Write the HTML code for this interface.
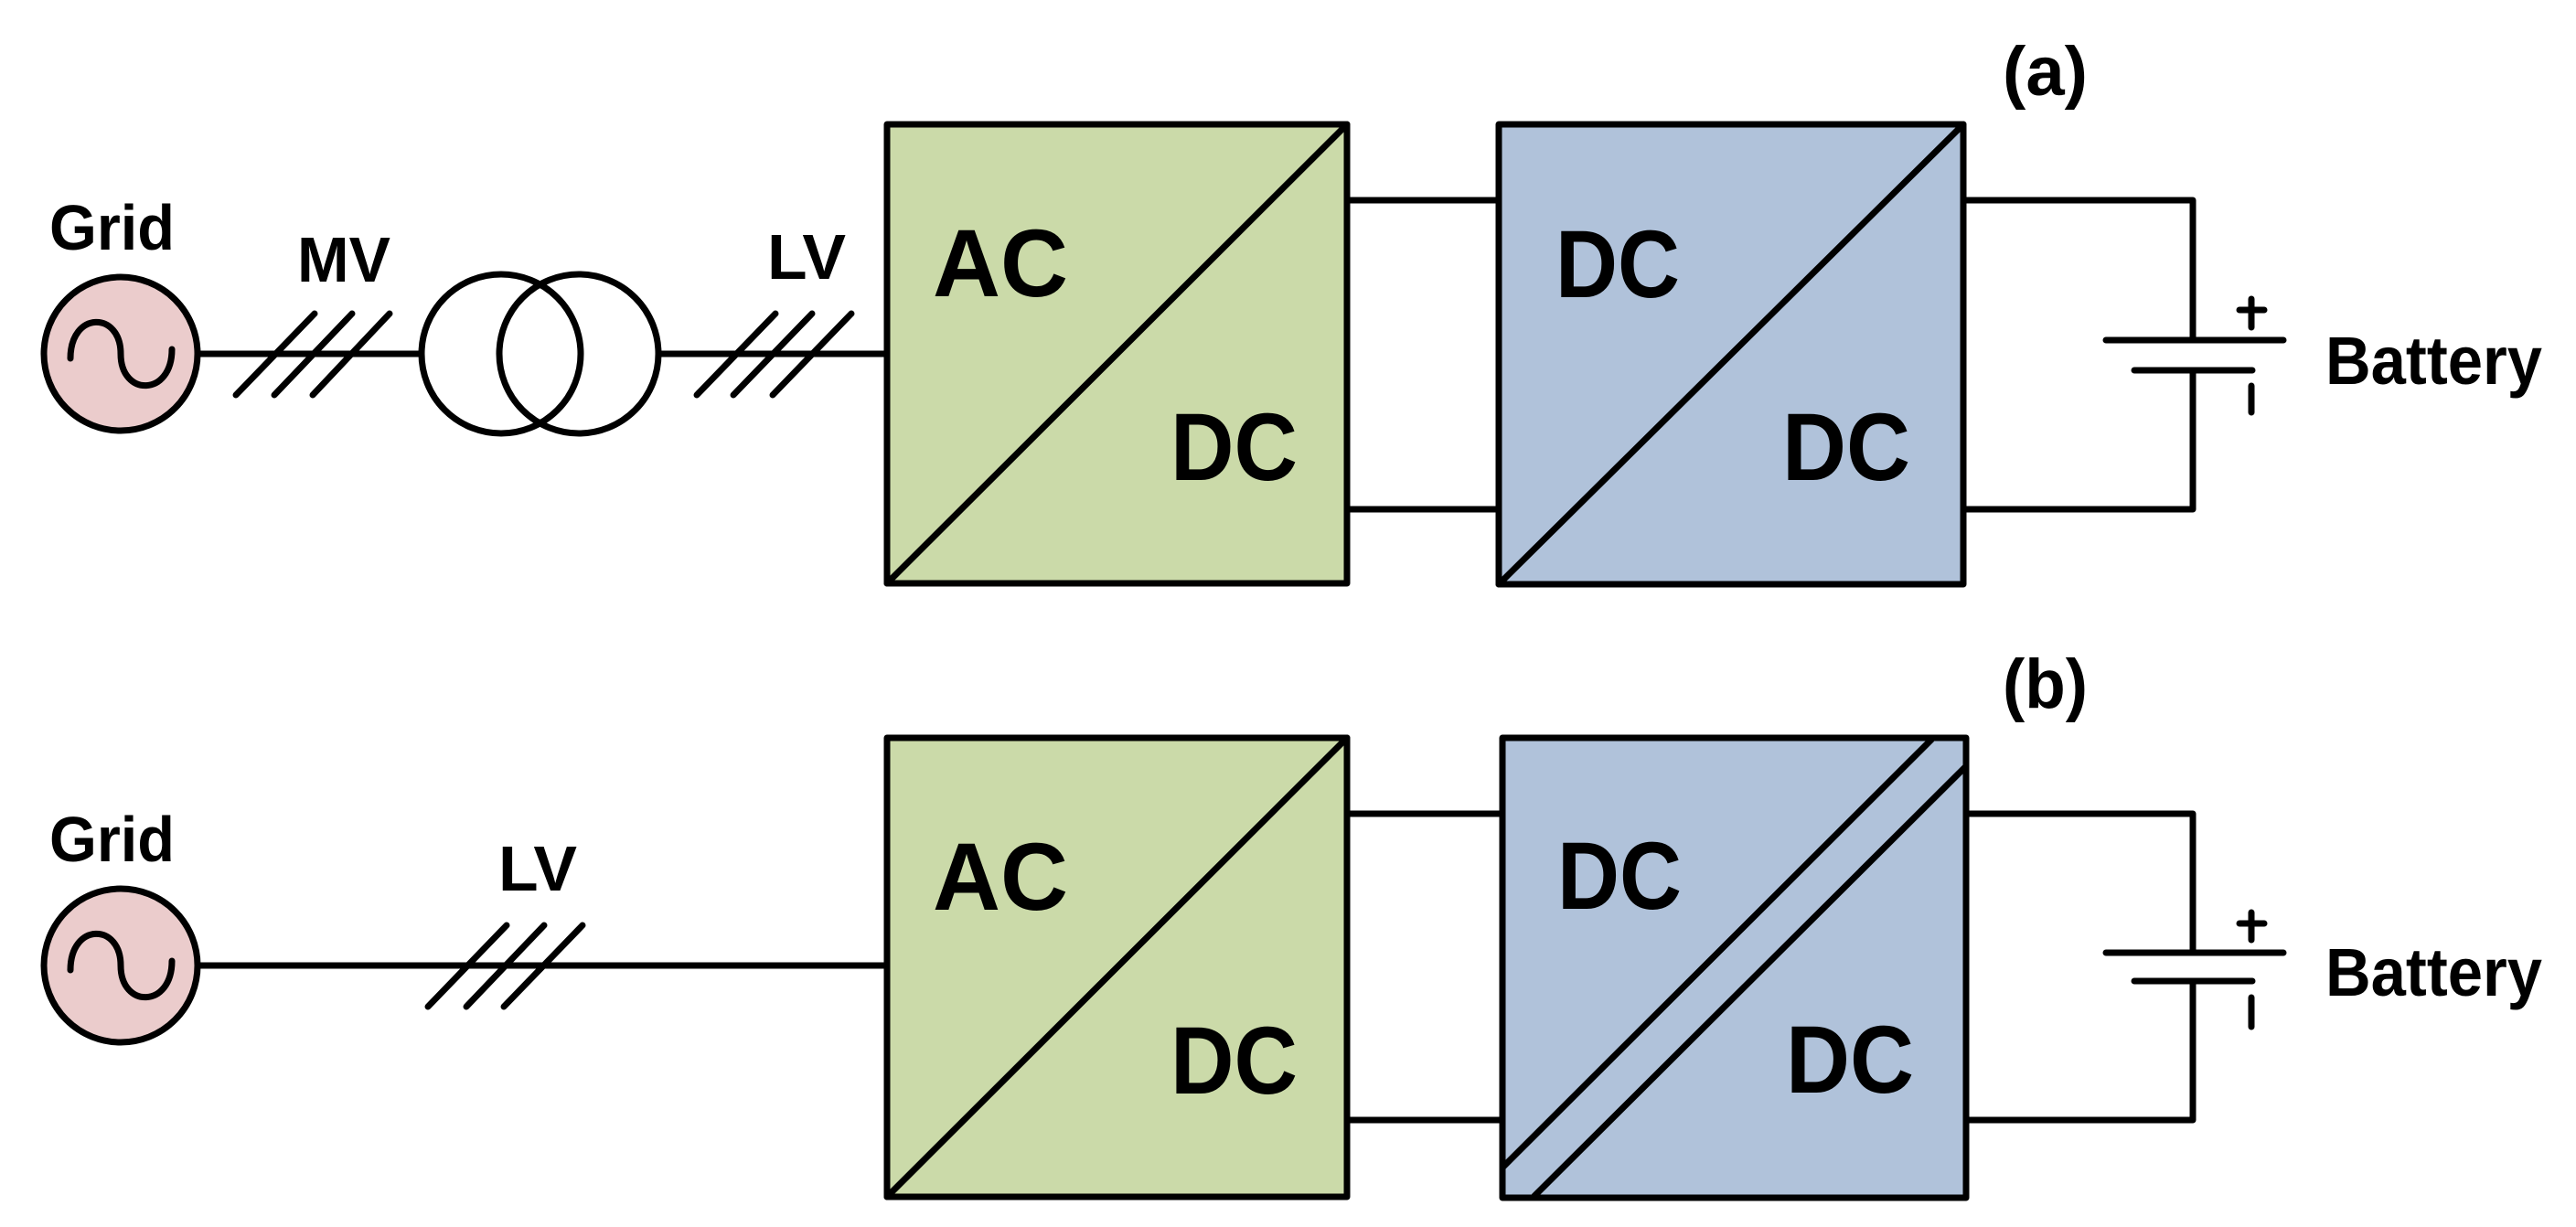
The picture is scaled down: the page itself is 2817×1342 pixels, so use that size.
<!DOCTYPE html>
<html><head><meta charset="utf-8"><style>html,body{margin:0;padding:0;background:#fff}svg{display:block}</style></head>
<body>
<svg width="2817" height="1342" viewBox="0 0 2817 1342" xmlns="http://www.w3.org/2000/svg" font-family="'Liberation Sans', Arial, sans-serif" font-weight="bold">
<g stroke="#000" stroke-width="7" fill="none" stroke-linecap="round" stroke-linejoin="round">
<!-- (a) -->
<line x1="217" y1="387" x2="459" y2="387"/>
<line x1="721" y1="387" x2="970" y2="387"/>
<line x1="258" y1="432" x2="344" y2="343"/>
<line x1="300" y1="432" x2="385" y2="343"/>
<line x1="342" y1="432" x2="426" y2="343"/>
<line x1="762" y1="432" x2="848" y2="343"/>
<line x1="802" y1="432" x2="888" y2="343"/>
<line x1="845" y1="432" x2="931" y2="343"/>
<circle cx="548" cy="387" r="87"/>
<circle cx="633" cy="387" r="87"/>
<circle cx="132" cy="387" r="84" fill="#ebcccc"/>
<path d="M77,392 C77,340 132,340 132,387 C132,434 188,434 188,382"/>
<rect x="970" y="136" width="503" height="502" fill="#cbdaa9"/>
<line x1="970" y1="638" x2="1473" y2="136"/>
<line x1="1473" y1="219" x2="1639" y2="219"/>
<line x1="1473" y1="557" x2="1639" y2="557"/>
<rect x="1639" y="136" width="508" height="503" fill="#b0c2da"/>
<line x1="1639" y1="639" x2="2147" y2="136"/>
<polyline points="2147,219 2398,219 2398,372"/>
<polyline points="2147,557 2398,557 2398,405"/>
<line x1="2303" y1="372" x2="2497" y2="372"/>
<line x1="2334" y1="405" x2="2463" y2="405"/>
<line x1="2462" y1="327" x2="2462" y2="358"/>
<line x1="2449" y1="339" x2="2476" y2="339"/>
<line x1="2462" y1="422" x2="2462" y2="451"/>
<!-- (b) -->
<line x1="217" y1="1056" x2="970" y2="1056"/>
<line x1="468" y1="1101" x2="554" y2="1012"/>
<line x1="510" y1="1101" x2="595" y2="1012"/>
<line x1="551" y1="1101" x2="637" y2="1012"/>
<circle cx="132" cy="1056" r="84" fill="#ebcccc"/>
<path d="M77,1061 C77,1009 132,1009 132,1056 C132,1103 188,1103 188,1051"/>
<rect x="970" y="807" width="503" height="502" fill="#cbdaa9"/>
<line x1="970" y1="1309" x2="1473" y2="807"/>
<line x1="1473" y1="890" x2="1643" y2="890"/>
<line x1="1473" y1="1225" x2="1643" y2="1225"/>
<rect x="1643" y="807" width="507" height="503" fill="#b0c2da"/>
<line x1="1643" y1="1277" x2="2112" y2="809"/>
<line x1="1678" y1="1308" x2="2150" y2="838"/>
<polyline points="2150,890 2398,890 2398,1042"/>
<polyline points="2150,1225 2398,1225 2398,1073"/>
<line x1="2303" y1="1042" x2="2497" y2="1042"/>
<line x1="2334" y1="1073" x2="2463" y2="1073"/>
<line x1="2462" y1="998" x2="2462" y2="1028"/>
<line x1="2449" y1="1010" x2="2476" y2="1010"/>
<line x1="2462" y1="1091" x2="2462" y2="1123"/>
</g>
<g fill="#000">
<text x="54" y="273" font-size="70" textLength="137" lengthAdjust="spacingAndGlyphs">Grid</text>
<text x="325" y="308" font-size="70" textLength="102" lengthAdjust="spacingAndGlyphs">MV</text>
<text x="839" y="305" font-size="70" textLength="86" lengthAdjust="spacingAndGlyphs">LV</text>
<text x="1020" y="324" font-size="105" textLength="148" lengthAdjust="spacingAndGlyphs">AC</text>
<text x="1280" y="525" font-size="105" textLength="139" lengthAdjust="spacingAndGlyphs">DC</text>
<text x="1701" y="325" font-size="105" textLength="136" lengthAdjust="spacingAndGlyphs">DC</text>
<text x="1949" y="525" font-size="105" textLength="140" lengthAdjust="spacingAndGlyphs">DC</text>
<text x="2543" y="420" font-size="74" textLength="237" lengthAdjust="spacingAndGlyphs">Battery</text>
<text x="2190" y="104" font-size="76" textLength="93" lengthAdjust="spacingAndGlyphs">(a)</text>

<text x="54" y="942" font-size="70" textLength="137" lengthAdjust="spacingAndGlyphs">Grid</text>
<text x="545" y="974" font-size="70" textLength="86" lengthAdjust="spacingAndGlyphs">LV</text>
<text x="1020" y="995" font-size="105" textLength="148" lengthAdjust="spacingAndGlyphs">AC</text>
<text x="1280" y="1196" font-size="105" textLength="139" lengthAdjust="spacingAndGlyphs">DC</text>
<text x="1703" y="994" font-size="105" textLength="136" lengthAdjust="spacingAndGlyphs">DC</text>
<text x="1953" y="1195" font-size="105" textLength="140" lengthAdjust="spacingAndGlyphs">DC</text>
<text x="2543" y="1089" font-size="74" textLength="237" lengthAdjust="spacingAndGlyphs">Battery</text>
<text x="2190" y="774" font-size="76" textLength="93" lengthAdjust="spacingAndGlyphs">(b)</text>
</g>
</svg>
</body></html>
